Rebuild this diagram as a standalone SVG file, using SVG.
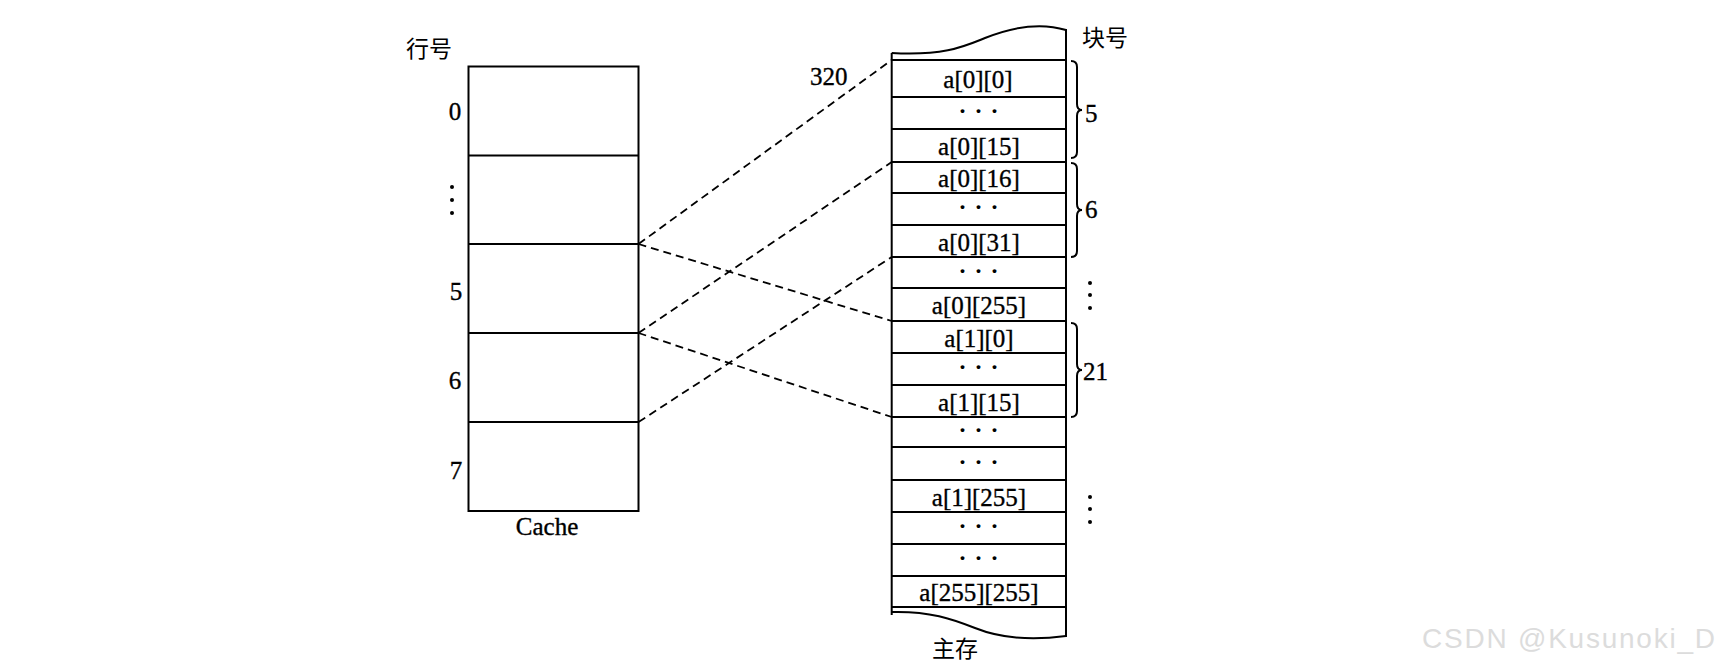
<svg xmlns="http://www.w3.org/2000/svg" width="1722" height="670" viewBox="0 0 1722 670">
<style>
.ln{fill:none;stroke:#000;stroke-width:2}
.t{font-family:"Liberation Serif","Noto Sans CJK SC",serif;font-size:25px;fill:#000;stroke:#000;stroke-width:0.35}
.c{text-anchor:middle}
.cjk{font-family:"Noto Sans CJK SC","Liberation Serif",sans-serif;font-size:23px;fill:#000}
.d{font-family:"Liberation Serif",serif;font-size:24px;font-weight:bold;fill:#000;text-anchor:middle}
.dot{fill:#000}
.dash{fill:none;stroke:#000;stroke-width:1.8;stroke-dasharray:8 5}
.wm{font-family:"Liberation Sans",Arial,sans-serif;font-size:28px;fill:#dcdcdc}
</style>
<rect width="1722" height="670" fill="#fff"/>

<g id="cache">
<rect class="ln" x="468.5" y="66.5" width="170" height="444.5"/>
<line class="ln" x1="468.5" y1="155.5" x2="638.5" y2="155.5"/>
<line class="ln" x1="468.5" y1="244" x2="638.5" y2="244"/>
<line class="ln" x1="468.5" y1="333" x2="638.5" y2="333"/>
<line class="ln" x1="468.5" y1="422" x2="638.5" y2="422"/>
<text class="cjk" x="406" y="57">行号</text>
<text class="t c" x="455" y="120">0</text>
<circle class="dot" cx="452" cy="187" r="2"/>
<circle class="dot" cx="452" cy="200" r="2"/>
<circle class="dot" cx="452" cy="213" r="2"/>
<text class="t c" x="456" y="300">5</text>
<text class="t c" x="455" y="389">6</text>
<text class="t c" x="456" y="479">7</text>
<text class="t c" x="547" y="535">Cache</text>
</g>

<g id="memory">
<path class="ln" d="M891.7,53 C945,56 965,46 985,38 C1010,28 1040,22 1066,30"/>
<path class="ln" d="M891.7,612 C930,611 952,619 975,628 C1000,638 1030,641 1066,636"/>
<line class="ln" x1="891.7" y1="53" x2="891.7" y2="615"/>
<line class="ln" x1="1066" y1="29" x2="1066" y2="637"/>
<g class="ln">
<line x1="891.7" y1="60" x2="1066" y2="60"/>
<line x1="891.7" y1="97" x2="1066" y2="97"/>
<line x1="891.7" y1="129" x2="1066" y2="129"/>
<line x1="891.7" y1="162" x2="1066" y2="162"/>
<line x1="891.7" y1="193" x2="1066" y2="193"/>
<line x1="891.7" y1="225" x2="1066" y2="225"/>
<line x1="891.7" y1="257" x2="1066" y2="257"/>
<line x1="891.7" y1="288" x2="1066" y2="288"/>
<line x1="891.7" y1="321" x2="1066" y2="321"/>
<line x1="891.7" y1="353" x2="1066" y2="353"/>
<line x1="891.7" y1="385" x2="1066" y2="385"/>
<line x1="891.7" y1="417" x2="1066" y2="417"/>
<line x1="891.7" y1="447" x2="1066" y2="447"/>
<line x1="891.7" y1="480" x2="1066" y2="480"/>
<line x1="891.7" y1="512" x2="1066" y2="512"/>
<line x1="891.7" y1="544" x2="1066" y2="544"/>
<line x1="891.7" y1="576" x2="1066" y2="576"/>
<line x1="891.7" y1="607" x2="1066" y2="607"/>
</g>
<text class="t c" x="978" y="88">a[0][0]</text>
<text class="d" x="979" y="119" letter-spacing="1">· · ·</text>
<text class="t c" x="979" y="155">a[0][15]</text>
<text class="t c" x="979" y="187">a[0][16]</text>
<text class="d" x="979" y="215" letter-spacing="1">· · ·</text>
<text class="t c" x="979" y="250.5">a[0][31]</text>
<text class="d" x="979" y="278.5" letter-spacing="1">· · ·</text>
<text class="t c" x="979" y="314">a[0][255]</text>
<text class="t c" x="979" y="346.5">a[1][0]</text>
<text class="d" x="979" y="375" letter-spacing="1">· · ·</text>
<text class="t c" x="979" y="410.5">a[1][15]</text>
<text class="d" x="979" y="438" letter-spacing="1">· · ·</text>
<text class="d" x="979" y="469.5" letter-spacing="1">· · ·</text>
<text class="t c" x="979" y="505.5">a[1][255]</text>
<text class="d" x="979" y="534" letter-spacing="1">· · ·</text>
<text class="d" x="979" y="566" letter-spacing="1">· · ·</text>
<text class="t c" x="979" y="601">a[255][255]</text>
<text class="cjk" x="1082" y="46">块号</text>
<text class="cjk" x="932" y="657">主存</text>
<text class="t" x="810" y="85">320</text>
</g>

<g id="braces">
<path class="ln" d="M1071,61 Q1077,61 1077,67 L1077,104 Q1077,110 1082,110 Q1077,110 1077,116 L1077,152 Q1077,158 1071,158"/>
<path class="ln" d="M1071,163 Q1077,163 1077,169 L1077,204 Q1077,210 1082,210 Q1077,210 1077,216 L1077,251 Q1077,257 1071,257"/>
<path class="ln" d="M1071,323 Q1077,323 1077,329 L1077,364 Q1077,370 1082,370 Q1077,370 1077,376 L1077,411 Q1077,417 1071,417"/>
<text class="t" x="1085" y="122">5</text>
<text class="t" x="1085" y="218">6</text>
<text class="t" x="1083" y="380">21</text>
<circle class="dot" cx="1090" cy="283" r="2"/>
<circle class="dot" cx="1090" cy="295" r="2"/>
<circle class="dot" cx="1090" cy="308" r="2"/>
<circle class="dot" cx="1090" cy="497" r="2"/>
<circle class="dot" cx="1090" cy="509" r="2"/>
<circle class="dot" cx="1090" cy="522" r="2"/>
</g>

<g id="connectors">
<line class="dash" x1="638.5" y1="244" x2="891.7" y2="60"/>
<line class="dash" x1="638.5" y1="244" x2="891.7" y2="321"/>
<line class="dash" x1="638.5" y1="333" x2="891.7" y2="162"/>
<line class="dash" x1="638.5" y1="333" x2="891.7" y2="417"/>
<line class="dash" x1="638.5" y1="422" x2="891.7" y2="257"/>
</g>

<text class="wm" x="1422" y="648" textLength="293" lengthAdjust="spacing">CSDN @Kusunoki_D</text>
</svg>
